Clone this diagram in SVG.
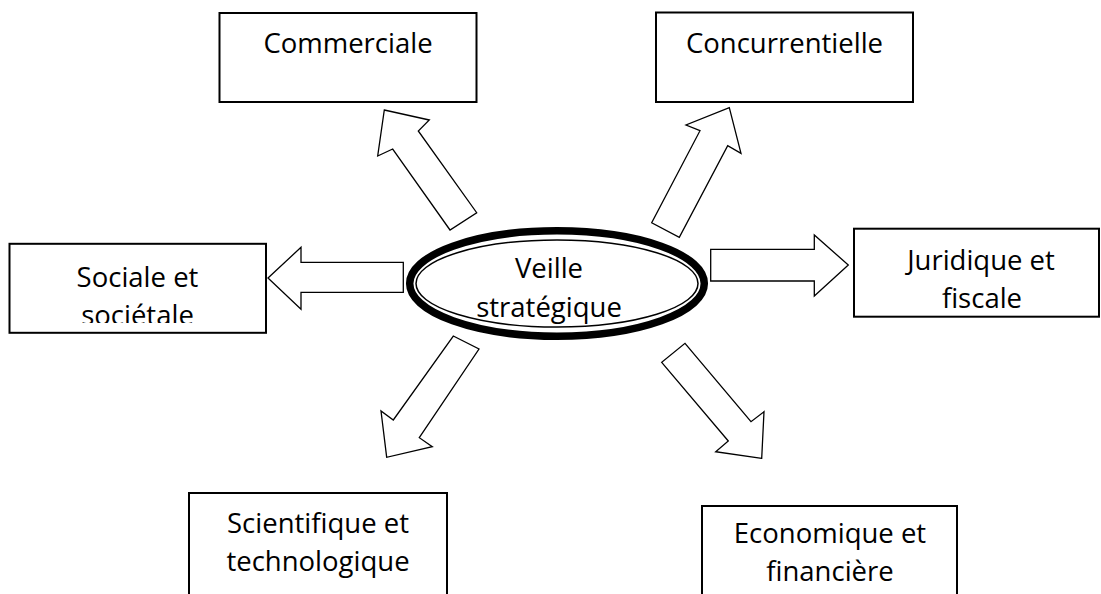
<svg xmlns="http://www.w3.org/2000/svg" width="1101" height="594" viewBox="0 0 1101 594">
  <style>
    .box { fill: #ffffff; stroke: #000000; stroke-width: 2; }
    .arrow { fill: #ffffff; stroke: #000000; stroke-width: 1.3; stroke-linejoin: miter; }
    .label { font-family: "Open Sans", "Liberation Sans", sans-serif; font-size: 27.5px; fill: #000000; text-anchor: middle; }
  </style>
  <defs>
    <!-- text areas of the boxes whose second line is cut off by the box -->
    <clipPath id="clip-sociale"><rect x="10" y="244" width="256" height="79"/></clipPath>
    <clipPath id="clip-juridique"><rect x="855" y="229" width="246" height="80"/></clipPath>
  </defs>

  <rect width="1101" height="594" fill="#ffffff"/>

  <!-- block arrows from the centre to each box -->
  <g id="connectors">
    <polygon class="arrow" points="384.3,110 429.3,120 418.3,131 476.7,212.7 450,230 392.7,149 377.7,156"/>
    <polygon class="arrow" points="729.3,107.7 741,153.3 727.7,145.7 679.3,237.3 651.7,222.7 700,130.7 686,125"/>
    <polygon class="arrow" points="268,278 301,247.3 301,262.3 403.3,262.3 403.3,292.3 301,292.3 301,309.3"/>
    <polygon class="arrow" points="848.3,265 814.3,296 814.3,281 710.7,281 710.7,249.3 814.3,249.3 814.3,235"/>
    <polygon class="arrow" points="386.7,457.3 381,411 393.3,420 453.3,336 479,349 419.3,437.7 432.3,446.7"/>
    <polygon class="arrow" points="761.7,458.3 715.7,451.7 728.3,441 661.7,362.3 685,343.3 751,421.7 764,411.7"/>
  </g>

  <!-- centre: double-ringed ellipse -->
  <g id="veille">
    <ellipse cx="557" cy="283.5" rx="147.3" ry="52.7" fill="#ffffff" stroke="#000000" stroke-width="7.5"/>
    <ellipse cx="557" cy="283.5" rx="141" ry="43.5" fill="none" stroke="#000000" stroke-width="1.5"/>
    <text class="label" x="549" y="278">Veille</text>
    <text class="label" x="549" y="317">stratégique</text>
  </g>

  <g id="commerciale">
    <rect class="box" x="219.5" y="13" width="257" height="89"/>
    <text class="label" x="348" y="53">Commerciale</text>
  </g>

  <g id="concurrentielle">
    <rect class="box" x="656" y="12.5" width="257" height="89.5"/>
    <text class="label" x="784.5" y="53">Concurrentielle</text>
  </g>

  <g id="sociale">
    <rect class="box" x="9.5" y="243.8" width="256.5" height="89"/>
    <g clip-path="url(#clip-sociale)">
      <text class="label" x="137.5" y="287">Sociale et</text>
      <text class="label" x="137.5" y="325">sociétale</text>
    </g>
  </g>

  <g id="juridique">
    <rect class="box" x="854" y="228.7" width="245" height="88"/>
    <g clip-path="url(#clip-juridique)">
      <text class="label" x="981" y="270">Juridique et</text>
      <text class="label" x="982" y="308">fiscale</text>
    </g>
  </g>

  <g id="scientifique">
    <rect class="box" x="189" y="493" width="258" height="120"/>
    <text class="label" x="318" y="533">Scientifique et</text>
    <text class="label" x="318" y="571">technologique</text>
  </g>

  <g id="economique">
    <rect class="box" x="702" y="506" width="255" height="120"/>
    <text class="label" x="830" y="543">Economique et</text>
    <text class="label" x="830" y="581">financière</text>
  </g>
</svg>
